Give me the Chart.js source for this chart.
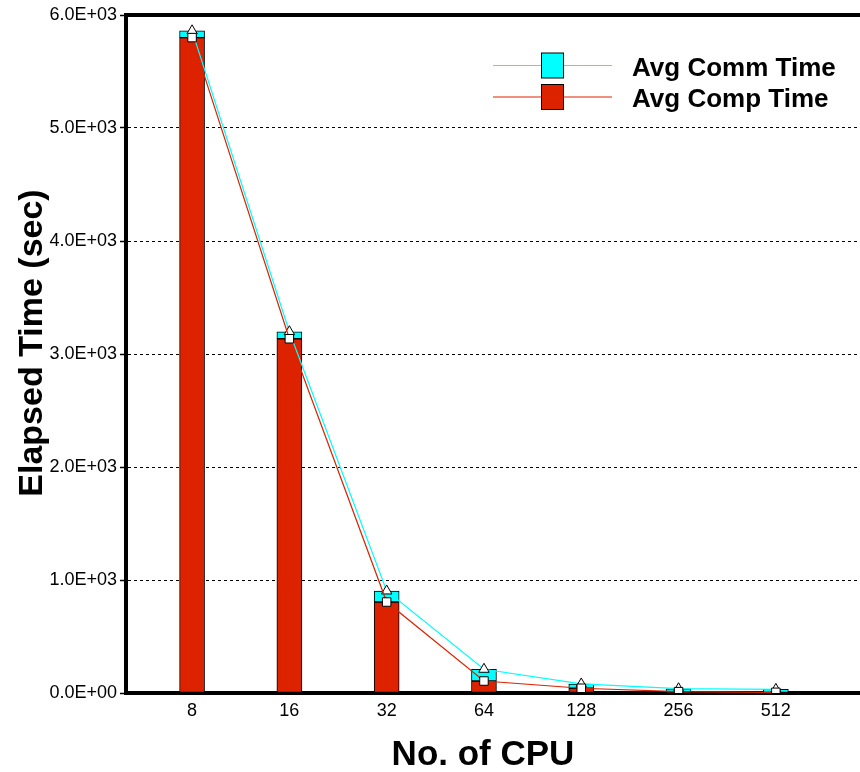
<!DOCTYPE html>
<html>
<head>
<meta charset="utf-8">
<script src="https://cdn.jsdelivr.net/npm/chart.js@4/dist/chart.umd.min.js"></script>
<style>
  html, body { margin: 0; padding: 0; background: #fff; overflow: hidden; width: 860px; height: 772px; }
  canvas { display: block; }
</style>
</head>
<body>
<canvas id="c" width="868" height="772"></canvas>
<script>
// ---- data ----
const cpuLabels = ['8', '16', '32', '64', '128', '256', '512'];
const compTime  = [5800, 3135, 805, 106, 42, 12, 6];   // Avg Comp Time (sec)
const commTime  = [60, 62, 98, 104, 38, 26, 26];       // Avg Comm Time (sec)
const yTicks    = [0, 1000, 2000, 3000, 4000, 5000, 6000];
const seriesNames = ['Avg Comm Time', 'Avg Comp Time'];
const axisTitles = { x: 'No. of CPU', y: 'Elapsed Time (sec)' };

const RED = '#dd2200';
const CYAN = '#00ffff';
const FONT = '"Liberation Sans", Arial, Helvetica, sans-serif';

const totalTime = compTime.map((v, i) => v + commTime[i]);
const compPts  = compTime.map((v, i) => ({ x: i + 1, y: v }));
const commBars = compTime.map((v, i) => ({ x: i + 1, y: [v, totalTime[i]] }));
const totalPts = totalTime.map((v, i) => ({ x: i + 1, y: v }));

function sci(v) {
  if (v === 0) return '0.0E+00';
  const e = Math.floor(Math.log10(Math.abs(v)) + 1e-9);
  const m = v / Math.pow(10, e);
  return m.toFixed(1) + 'E' + (e >= 0 ? '+' : '-') + String(Math.abs(e)).padStart(2, '0');
}

const X_MIN = 0.321, X_MAX = 7.875;

const decor = {
  id: 'decor',
  afterDraw(chart) {
    const ctx = chart.ctx;
    ctx.save();
    ctx.fillStyle = '#000';
    ctx.font = 'bold 35px ' + FONT;
    ctx.textAlign = 'center';
    ctx.textBaseline = 'alphabetic';
    ctx.fillText(axisTitles.x, 483, 765);
    ctx.font = 'bold 34px ' + FONT;
    ctx.translate(42, 343);
    ctx.rotate(-Math.PI / 2);
    ctx.fillText(axisTitles.y, 0, 0);
    ctx.restore();

    ctx.save();
    const rows = [
      { name: seriesNames[0], color: CYAN, y: 65.5 },
      { name: seriesNames[1], color: RED, y: 97 }
    ];
    rows.forEach(r => {
      ctx.strokeStyle = r.color;
      ctx.lineWidth = 1;
      ctx.beginPath();
      ctx.moveTo(493, r.y);
      ctx.lineTo(612, r.y);
      ctx.stroke();
      ctx.fillStyle = r.color;
      ctx.fillRect(541.5, r.y - 12.5, 22, 25);
      ctx.strokeStyle = '#000';
      ctx.strokeRect(541.5, r.y - 12.5, 22, 25);
      ctx.fillStyle = '#000';
      ctx.font = 'bold 26px ' + FONT;
      ctx.textAlign = 'left';
      ctx.textBaseline = 'alphabetic';
      ctx.fillText(r.name, 632, r.y + 10);
    });
    ctx.restore();
  }
};

new Chart(document.getElementById('c'), {
  type: 'bar',
  data: {
    datasets: [
      {
        type: 'line', label: seriesNames[0] + ' line', data: totalPts,
        borderColor: CYAN, borderWidth: 1.2, backgroundColor: CYAN,
        pointStyle: 'triangle', pointRadius: 6, pointBackgroundColor: '#fff',
        pointBorderColor: '#000', pointBorderWidth: 1, order: 1, tension: 0
      },
      {
        type: 'line', label: seriesNames[1] + ' line', data: compPts,
        borderColor: RED, borderWidth: 1.2, backgroundColor: RED,
        pointStyle: 'rect', pointRadius: 6, pointBackgroundColor: '#fff',
        pointBorderColor: '#000', pointBorderWidth: 1, order: 0, tension: 0
      },
      {
        type: 'bar', label: seriesNames[1], data: compPts,
        backgroundColor: RED, borderColor: '#000', borderWidth: 1,
        borderSkipped: false, barThickness: 25, grouped: false, order: 3
      },
      {
        type: 'bar', label: seriesNames[0], data: commBars,
        backgroundColor: CYAN, borderColor: '#000', borderWidth: 1,
        borderSkipped: false, barThickness: 25, grouped: false, order: 2
      }
    ]
  },
  options: {
    responsive: false,
    animation: false,
    devicePixelRatio: 1,
    layout: { padding: 0 },
    plugins: { legend: { display: false }, tooltip: { enabled: false } },
    scales: {
      x: {
        type: 'linear', position: 'bottom', min: X_MIN, max: X_MAX, offset: false,
        afterBuildTicks: s => { s.ticks = cpuLabels.map((_, i) => ({ value: i + 1 })); },
        ticks: {
          callback: v => cpuLabels[Math.round(v) - 1] ?? '',
          font: { family: FONT, size: 18 }, color: '#000', padding: 7,
          autoSkip: false, maxRotation: 0
        },
        grid: { display: false, drawTicks: false, offset: false },
        border: { display: true, color: '#000', width: 4 },
        afterFit: s => { s.height = 79; s.paddingRight = 0; s.paddingLeft = 0; }
      },
      xTop: {
        type: 'linear', position: 'top', min: X_MIN, max: X_MAX, offset: false,
        ticks: { display: false },
        grid: { display: false, drawTicks: false, offset: false },
        border: { display: true, color: '#000', width: 4 },
        afterFit: s => { s.height = 15; s.paddingRight = 0; s.paddingLeft = 0; }
      },
      y: {
        type: 'linear', min: 0, max: 6000,
        afterBuildTicks: s => { s.ticks = yTicks.map(v => ({ value: v })); },
        ticks: {
          callback: v => sci(v),
          font: { family: FONT, size: 18 }, color: '#000', padding: 3
        },
        grid: {
          color: c => (c.tick && (c.tick.value === 0 || c.tick.value === 6000)) ? 'rgba(0,0,0,0)' : '#000',
          lineWidth: 1, tickColor: '#000', tickLength: 6, tickBorderDash: [], tickWidth: 1.5
        },
        border: { display: true, color: '#000', width: 4, dash: [3, 3] },
        afterFit: s => { s.width = 126; s.paddingTop = 0; s.paddingBottom = 0; }
      }
    }
  },
  plugins: [decor]
});
</script>
</body>
</html>
